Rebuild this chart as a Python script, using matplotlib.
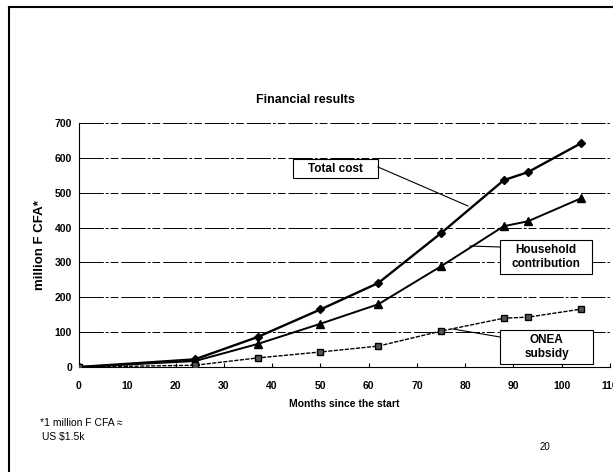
import matplotlib
matplotlib.use("Agg")
import matplotlib.pyplot as plt
from matplotlib.patches import Rectangle

plt.rcParams['font.family'] = ['Liberation Sans', 'DejaVu Sans']

# donnees
months = [0, 24, 37, 50, 62, 75, 88, 93, 104]
total_cost = [0, 22, 86, 165, 241, 384, 536, 559, 642]
household = [0, 17, 66, 124, 180, 289, 404, 418, 484]
onea = [0, 5, 26, 43, 60, 103, 140, 143, 166]
y_ticks = [0, 100, 200, 300, 400, 500, 600, 700]
x_ticks = [0, 10, 20, 30, 40, 50, 60, 70, 80, 90, 100, 110]

W, H = 613, 472
fig = plt.figure(figsize=(W / 100, H / 100), dpi=100)

# axes: x=0 a 79px, x=110 a 610px, y=0 a 367px, y=700 a 123px
ax = fig.add_axes([79 / W, 1 - 367 / H, (610 - 79) / W, (367 - 123) / H])
ax.set_xlim(0, 110)
ax.set_ylim(0, 700)

for v in y_ticks[1:]:
    ax.axhline(v, color='black', lw=0.7, ls=(0, (25, 2, 3, 2, 8, 3)), zorder=1)

ax.plot(months, total_cost, color='black', lw=1.7, marker='D', ms=4, zorder=3)
ax.plot(months, household, color='black', lw=1.4, marker='^', ms=5.5, zorder=3)
ax.plot(months, onea, color='black', lw=1.0, ls=(0, (3, 1)), marker='s', ms=5,
        mfc='#555555', zorder=3)

ax.set_xticks(x_ticks)
ax.set_yticks(y_ticks)
ax.tick_params(axis='both', labelsize=7.5, length=3, width=0.8)
ax.tick_params(axis='x', pad=10, direction='in')
ax.tick_params(axis='y', length=0, pad=5)
for lab in ax.get_xticklabels() + ax.get_yticklabels():
    lab.set_fontweight('bold')

for side in ['top', 'right']:
    ax.spines[side].set_visible(False)
ax.spines['left'].set_linewidth(0.8)
ax.spines['bottom'].set_linewidth(0.8)

ax.set_ylabel('million F CFA*', fontsize=9.5, fontweight='bold', labelpad=6)
ax.set_xlabel('Months since the start', fontsize=7.5, fontweight='bold', labelpad=6)

fig.text(305 / W, 1 - 100 / H, 'Financial results', ha='center', va='center',
         fontsize=9, fontweight='bold')

# boites d'annotation (x0, y0, x1, y1 en pixels)
boxes = [
    ('Total cost', (293, 159, 378, 178)),
    ('Household\ncontribution', (500, 240, 592, 274)),
    ('ONEA\nsubsidy', (500, 330, 593, 364)),
]
for label, (x0, y0, x1, y1) in boxes:
    fig.add_artist(Rectangle((x0 / W, 1 - y1 / H), (x1 - x0) / W, (y1 - y0) / H,
                             transform=fig.transFigure, fc='white', ec='black',
                             lw=0.8, zorder=4))
    fig.text((x0 + x1) / 2 / W, 1 - (y0 + y1) / 2 / H, label, ha='center',
             va='center', fontsize=8.5, fontweight='bold', linespacing=1.3, zorder=5)

leaders = [((378, 167), (468, 206)), ((470, 246), (500, 247)), ((453, 329), (500, 337))]
for (x1, y1), (x2, y2) in leaders:
    fig.add_artist(plt.Line2D([x1 / W, x2 / W], [1 - y1 / H, 1 - y2 / H],
                              color='black', lw=0.8, transform=fig.transFigure, zorder=4))

fig.text(40 / W, 1 - 423 / H, '*1 million F CFA \u2248', ha='left', va='center', fontsize=7.5)
fig.text(42 / W, 1 - 437 / H, 'US $1.5k', ha='left', va='center', fontsize=7.5)
fig.text(545 / W, 1 - 447 / H, '20', ha='center', va='center', fontsize=7)

# cadre de la page
fig.add_artist(plt.Line2D([9 / W, 1], [1 - 7 / H, 1 - 7 / H], color='black', lw=1.5,
                          transform=fig.transFigure))
fig.add_artist(plt.Line2D([9 / W, 9 / W], [0, 1 - 7 / H], color='black', lw=1.5,
                          transform=fig.transFigure))

fig.savefig('out.png', dpi=100)
